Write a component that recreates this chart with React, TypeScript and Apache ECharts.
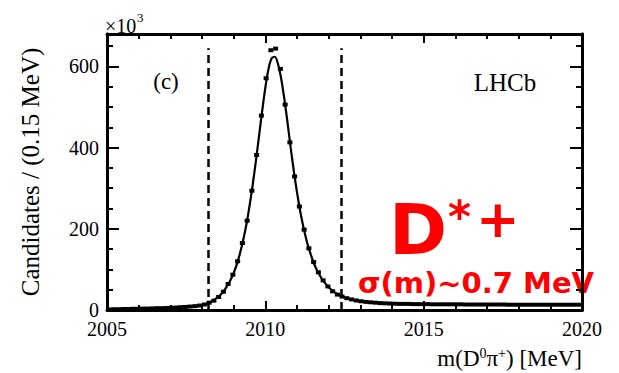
import React, { useEffect, useRef } from "react";
import * as echarts from "echarts";

// Histogram of D0 pi+ invariant mass, bins of 0.15 MeV, counts in units of 10^3
const BIN_START = 2005.075;
const BIN_WIDTH = 0.15;
const binCounts = [
  1.5, 2, 2, 2.5, 2.5, 3, 3, 3.5, 3.5, 4,
  4.5, 4.5, 5, 5.5, 6, 7, 7.5, 8.5, 9.5, 11,
  13.5, 18, 23, 32, 45, 64, 87, 120, 165, 220,
  294, 382, 479, 571, 640, 644, 594, 506, 413, 329,
  255, 198, 152, 118, 93, 73, 58, 46, 38, 33,
  29, 26, 23.5, 21.5, 20, 19, 18, 17, 16.5, 16,
  15.5, 15, 15, 15, 14.5, 14.5, 14.5, 14.5, 14, 14,
  14, 14, 14, 14, 14, 13.5, 13.5, 13.5, 13.5, 13.5,
  13.5, 13.5, 13.5, 13.5, 13, 13, 13, 13, 13, 13,
  13, 13, 13, 13, 13, 13, 13, 13, 13, 13,
];

// Fit curve
const curveMass = [
  2005, 2005.5, 2006, 2006.5, 2007, 2007.5, 2007.8,
  2008.0, 2008.1, 2008.2, 2008.3, 2008.4, 2008.5, 2008.6, 2008.7, 2008.8, 2008.9,
  2009.0, 2009.1, 2009.2, 2009.3, 2009.4, 2009.5, 2009.6, 2009.7, 2009.8, 2009.9,
  2010.0, 2010.1, 2010.2, 2010.3, 2010.4, 2010.5, 2010.6, 2010.7, 2010.8, 2010.9,
  2011.0, 2011.1, 2011.2, 2011.3, 2011.4, 2011.5, 2011.6, 2011.7, 2011.8, 2011.9,
  2012.0, 2012.1, 2012.2, 2012.3, 2012.4, 2012.5, 2012.6, 2012.7, 2012.8, 2012.9,
  2013.0, 2013.5, 2014, 2014.5, 2015, 2016, 2017, 2018, 2019, 2020,
];
const curveValues = [
  1.5, 2.5, 3, 4, 5.5, 7.5, 9.5,
  12, 14, 17, 21, 26, 32, 39, 48, 60, 74,
  91, 113, 140, 172, 210, 256, 308, 366, 428, 490,
  548, 594, 620, 624, 606, 570, 520, 462, 400, 342,
  290, 244, 205, 172, 145, 122, 103, 88, 75, 65,
  56, 49, 43, 38, 34, 31, 28, 26, 24, 22.5,
  21, 18, 16, 15, 14.5, 14, 13.5, 13.5, 13, 13,
];

// Signal window (dashed lines)
const windowEdges = [2008.2, 2012.4];
const windowTop = 645;

const xTickLabels = ["2005", "2010", "2015", "2020"];
const yTickLabels = ["0", "200", "400", "600"];

const SERIF = "Liberation Serif";
const SANS = "DejaVu Sans";

export default function App() {
  const ref = useRef<HTMLDivElement>(null);

  useEffect(() => {
    if (!ref.current) return;
    const chart = echarts.init(ref.current, undefined, { renderer: "svg" });

    const line = { color: "#000", width: 3 };
    const tickLine = { color: "#000", width: 2 };
    const xMin = 2005, xMax = 2020, yMin = 0, yMax = 680;
    const labelStyle = { fontFamily: SERIF, fontSize: 20, fontWeight: "normal", color: "#000" };

    const xBase = (pos: string, labels: boolean) => ({
      type: "value",
      position: pos,
      min: xMin,
      max: xMax,
      interval: 5,
      axisLine: { show: true, onZero: false, lineStyle: line },
      axisTick: { show: true, inside: true, length: 9, lineStyle: tickLine },
      minorTick: { show: true, splitNumber: 5, length: 5, lineStyle: tickLine },
      splitLine: { show: false },
      minorSplitLine: { show: false },
      axisLabel: {
        show: labels,
        margin: 12,
        lineHeight: 14,
        formatter: (v: number) => {
          const s = String(Math.round(v));
          return xTickLabels.includes(s) ? `{t|${s}}` : "";
        },
        rich: { t: { ...labelStyle, lineHeight: 14 } },
      },
    });

    const yBase = (pos: string, interval: number, len: number, labels: boolean) => ({
      type: "value",
      position: pos,
      min: yMin,
      max: yMax,
      interval,
      axisLine: { show: true, onZero: false, lineStyle: line },
      axisTick: { show: true, inside: true, length: len, lineStyle: tickLine },
      splitLine: { show: false },
      axisLabel: {
        show: labels,
        margin: 8,
        lineHeight: 14,
        formatter: (v: number) => {
          const s = String(Math.round(v));
          return yTickLabels.includes(s) ? `{t|${s}}` : "";
        },
        rich: { t: { ...labelStyle, lineHeight: 14 } },
      },
    });

    const yMain: any = yBase("left", 200, 12, true);
    yMain.name = "{t|Candidates / (0.15 MeV)}";
    yMain.nameLocation = "middle";
    yMain.nameGap = 64;
    yMain.nameRotate = 90;
    yMain.nameTextStyle = {
      fontFamily: SERIF,
      fontSize: 25,
      color: "#000",
      rich: { t: { fontFamily: SERIF, fontSize: 25, fontWeight: "normal", color: "#000" } },
    };

    const txt = (x: number, y: number, text: string, fontSize: number, family: string, fill: string, align: string, weight = "normal") => ({
      type: "text",
      x,
      y,
      style: { text, fontSize, fontFamily: family, fontWeight: weight, fill, align, verticalAlign: "middle" },
    });

    const option: any = {
      animation: false,
      backgroundColor: "#fff",
      textStyle: { fontFamily: SERIF },
      grid: { left: 107, right: 37, top: 34, bottom: 63 },
      xAxis: [xBase("bottom", true), xBase("top", false)],
      yAxis: [
        yMain,
        yBase("left", 50, 6, false),
        yBase("right", 200, 12, false),
        yBase("right", 50, 6, false),
      ],
      series: [
        {
          type: "line",
          xAxisIndex: 0,
          yAxisIndex: 0,
          data: curveMass.map((m, i) => [m, curveValues[i]]),
          smooth: 0.3,
          showSymbol: false,
          symbol: "none",
          lineStyle: { color: "#000", width: 2.2 },
          z: 3,
          markLine: {
            silent: true,
            symbol: ["none", "none"],
            label: { show: false },
            lineStyle: { color: "#000", width: 2.5, type: [8, 5] },
            data: windowEdges.map((m) => [
              { coord: [m, 0] },
              { coord: [m, windowTop] },
            ]),
          },
        },
        {
          type: "scatter",
          xAxisIndex: 0,
          yAxisIndex: 0,
          data: binCounts.map((v, k) => [BIN_START + k * BIN_WIDTH, v]),
          symbol: "rect",
          symbolSize: [5, 4],
          itemStyle: { color: "#000", opacity: 1 },
          z: 4,
        },
      ],
      graphic: [
        txt(105, 26, "×10", 20, SERIF, "#000", "left"),
        txt(137, 17, "3", 13, SERIF, "#000", "left"),
        txt(166, 81, "(c)", 23, SERIF, "#000", "center"),
        txt(505, 82, "LHCb", 25, SERIF, "#000", "center"),
        txt(389, 230, "D", 70, SANS, "#ff0000", "left", "bold"),
        txt(448, 216, "*", 44, SANS, "#ff0000", "left", "bold"),
        txt(476, 219, "+", 52, SANS, "#ff0000", "left", "bold"),
        txt(358, 283, "σ(m)~0.7 MeV", 29, SANS, "#ff0000", "left", "bold"),
        {
          type: "text",
          x: 582,
          y: 358,
          style: {
            text: "{n|m(D}{s|0}{n|π}{s|+}{n|) [MeV]}",
            fontSize: 23,
            fontFamily: SERIF,
            fill: "#000",
            align: "right",
            verticalAlign: "middle",
            rich: {
              n: { fontFamily: SERIF, fontSize: 23, fill: "#000", color: "#000", lineHeight: 24, verticalAlign: "bottom" },
              s: { fontFamily: SERIF, fontSize: 14, fill: "#000", color: "#000", lineHeight: 24, verticalAlign: "top" },
            },
          },
        },
      ],
    };

    chart.setOption(option);
    return () => chart.dispose();
  }, []);

  return (
    <div
      ref={ref}
      style={{ position: "fixed", left: 0, top: 0, width: 619, height: 373, background: "#fff" }}
    />
  );
}
